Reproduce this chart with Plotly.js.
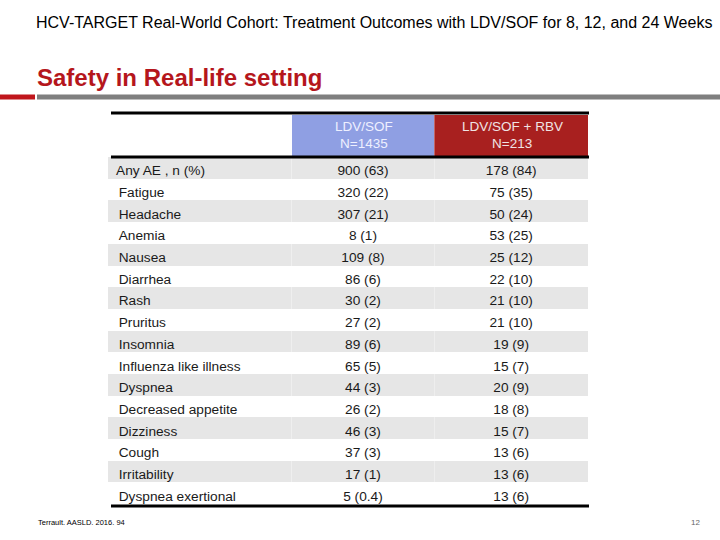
<!DOCTYPE html>
<html>
<head>
<meta charset="utf-8">
<script src="https://cdn.plot.ly/plotly-3.0.1.min.js"></script>
<style>html,body{margin:0;padding:0;background:#fff;}#chart{width:720px;height:540px;}</style>
</head>
<body>
<div id="chart"></div>
<script>
const slideTitle = "HCV-TARGET Real-World Cohort: Treatment Outcomes with LDV/SOF for 8, 12, and 24 Weeks";
const sectionTitle = "Safety in Real-life setting";
const footnote = "Terrault. AASLD. 2016. 94";
const pageNumber = "12";

const groupNames = ["LDV/SOF", "LDV/SOF + RBV"];
const groupN = ["N=1435", "N=213"];
const events = ["Any AE , n (%)", "Fatigue", "Headache", "Anemia", "Nausea", "Diarrhea", "Rash", "Pruritus",
  "Insomnia", "Influenza like illness", "Dyspnea", "Decreased appetite", "Dizziness", "Cough", "Irritability", "Dyspnea exertional"];
const ldvSof = ["900 (63)", "320 (22)", "307 (21)", "8 (1)", "109 (8)", "86 (6)", "30 (2)", "27 (2)",
  "89 (6)", "65 (5)", "44 (3)", "26 (2)", "46 (3)", "37 (3)", "17 (1)", "5 (0.4)"];
const ldvSofRbv = ["178 (84)", "75 (35)", "50 (24)", "53 (25)", "25 (12)", "22 (10)", "21 (10)", "21 (10)",
  "19 (9)", "15 (7)", "20 (9)", "18 (8)", "15 (7)", "13 (6)", "13 (6)", "13 (6)"];

const W = 720, H = 540;
const px = x => x / W;
const py = y => 1 - y / H;

const rowFill = events.map((_, i) => i % 2 === 0 ? "#e6e6e6" : "#ffffff");
const labelText = events.map((e, i) => i === 0 ? e : "\u2009" + e);
const headerFill = ["#ffffff", "#8f9fe3", "#a8201f"];
const colCenters = [363.5, 512];

const table = {
  type: "table",
  domain: { x: [px(108), px(589)], y: [py(530), py(115)] },
  columnwidth: [184, 143, 154],
  header: {
    values: ["", "", ""],
    height: 42,
    align: "center",
    fill: { color: headerFill },
    line: { color: headerFill, width: 0 },
    font: { family: "Liberation Sans, Arial, sans-serif", size: 13.5, color: "#eef0ff" }
  },
  cells: {
    values: [labelText, ldvSof, ldvSofRbv],
    height: 21.7,
    align: ["left", "center", "center"],
    fill: { color: [rowFill, rowFill, rowFill] },
    line: { color: [rowFill, rowFill, rowFill], width: 0 },
    font: { family: "Liberation Sans, Arial, sans-serif", size: 13.7, color: "#1a1a1a" }
  }
};

const headerAnnotations = [];
groupNames.forEach((g, i) => {
  headerAnnotations.push({ text: g, xref: "paper", yref: "paper", x: px(colCenters[i]), y: py(127), xanchor: "center", yanchor: "middle", showarrow: false,
    font: { family: "Liberation Sans, Arial, sans-serif", size: 13.5, color: i === 0 ? "#eef0ff" : "#f0e4e4" } });
  headerAnnotations.push({ text: groupN[i], xref: "paper", yref: "paper", x: px(colCenters[i]), y: py(144), xanchor: "center", yanchor: "middle", showarrow: false,
    font: { family: "Liberation Sans, Arial, sans-serif", size: 13.5, color: i === 0 ? "#eef0ff" : "#f0e4e4" } });
});

const layout = {
  width: W, height: H,
  margin: { l: 0, r: 0, t: 0, b: 0 },
  paper_bgcolor: "#ffffff",
  showlegend: false,
  shapes: [
    { type: "rect", xref: "paper", yref: "paper", x0: 0, x1: px(35), y0: py(99.5), y1: py(94.5), fillcolor: "#c0161c", line: { width: 0 } },
    { type: "rect", xref: "paper", yref: "paper", x0: px(37), x1: 1, y0: py(99.5), y1: py(94.5), fillcolor: "#7f7f7f", line: { width: 0 } },
    { type: "line", xref: "paper", yref: "paper", x0: px(111), x1: px(589), y0: py(113), y1: py(113), line: { color: "#000", width: 3 } },
    { type: "line", xref: "paper", yref: "paper", x0: px(111), x1: px(589), y0: py(157), y1: py(157), line: { color: "#000", width: 3 } },
    { type: "line", xref: "paper", yref: "paper", x0: px(111), x1: px(589), y0: py(506), y1: py(506), line: { color: "#000", width: 3 } }
  ],
  annotations: [
    { text: slideTitle, xref: "paper", yref: "paper", x: px(34), y: py(22), xanchor: "left", yanchor: "middle", showarrow: false,
      font: { family: "Liberation Sans, Arial, sans-serif", size: 16, color: "#000" } },
    { text: "<b>" + sectionTitle + "</b>", xref: "paper", yref: "paper", x: px(35), y: py(77), xanchor: "left", yanchor: "middle", showarrow: false,
      font: { family: "Liberation Sans, Arial, sans-serif", size: 24, color: "#b5161c" } },
    { text: footnote, xref: "paper", yref: "paper", x: px(36), y: py(522), xanchor: "left", yanchor: "middle", showarrow: false,
      font: { family: "Liberation Sans, Arial, sans-serif", size: 7.5, color: "#000" } },
    { text: pageNumber, xref: "paper", yref: "paper", x: px(702), y: py(522), xanchor: "right", yanchor: "middle", showarrow: false,
      font: { family: "Liberation Sans, Arial, sans-serif", size: 8, color: "#666" } }
  ].concat(headerAnnotations)
};

Plotly.newPlot("chart", [table], layout, { displayModeBar: false, staticPlot: true });
</script>
</body>
</html>
